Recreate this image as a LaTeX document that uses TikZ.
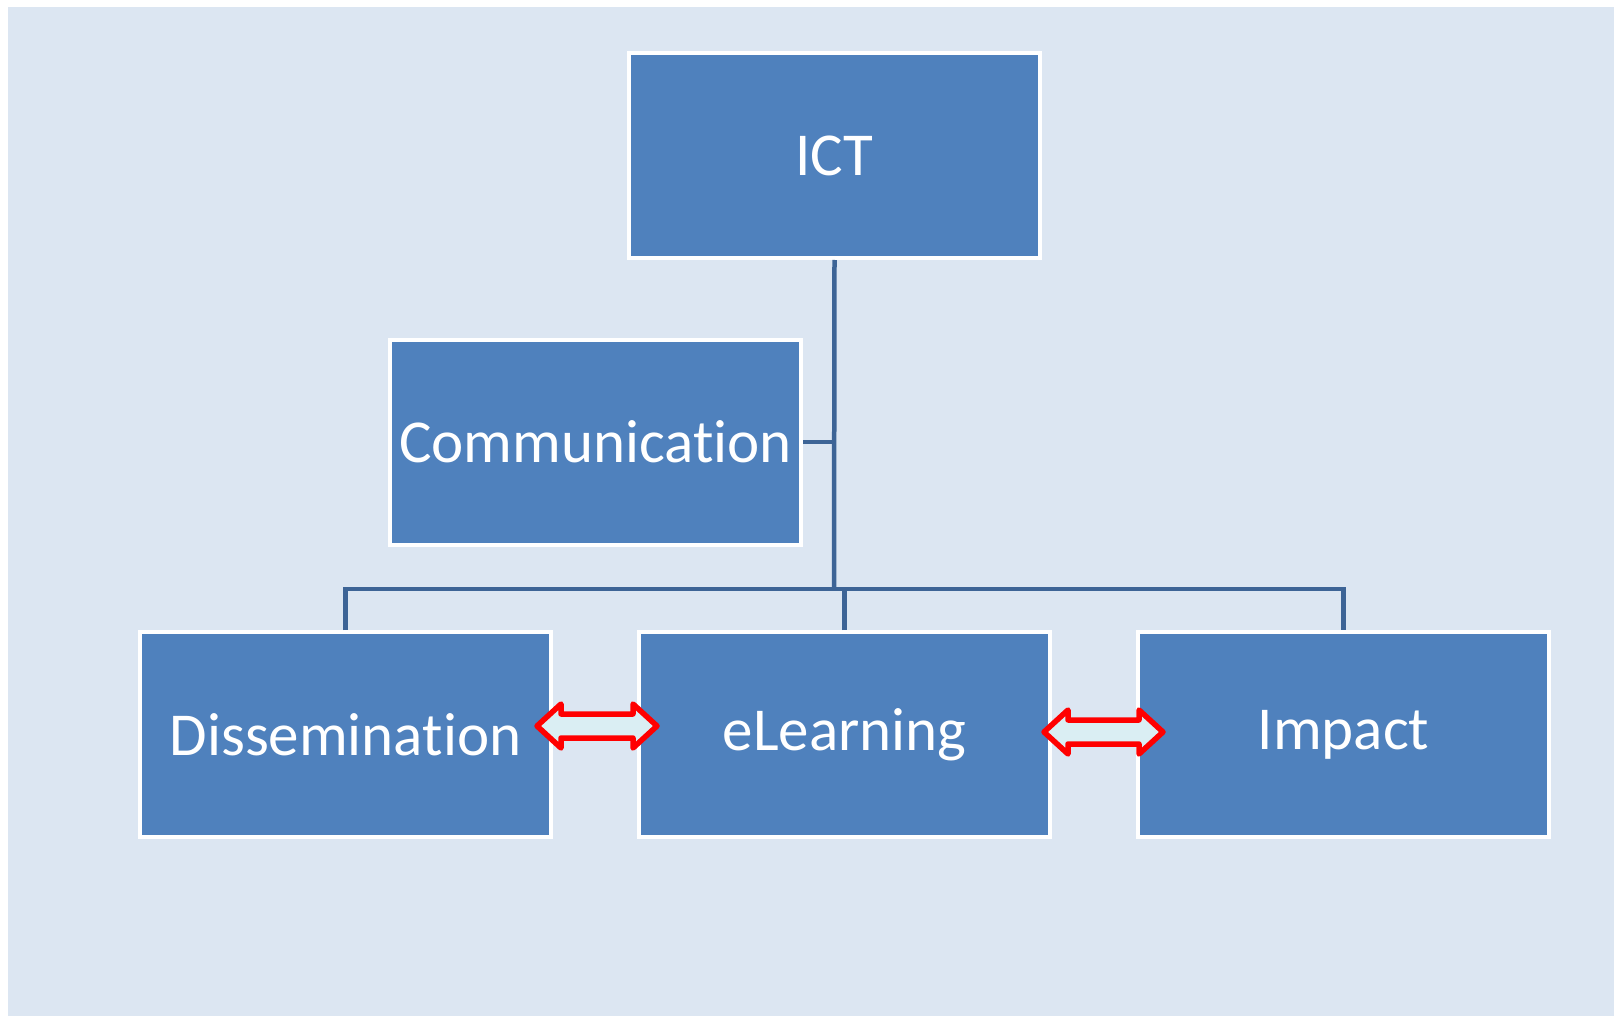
\documentclass[tikz,border=0pt]{standalone}
\usepackage{fontspec}
\setmainfont[Ligatures=NoCommon]{Carlito}
\definecolor{boxblue}{RGB}{79,129,189}
\definecolor{linkblue}{RGB}{61,100,150}
\definecolor{paleblue}{RGB}{220,230,242}
\definecolor{arrowfill}{RGB}{218,238,243}
\begin{document}
\begin{tikzpicture}[x=1pt,y=-1pt,
    box/.style={draw=white,line width=4pt,fill=boxblue,
        minimum width=411pt,minimum height=205pt,text=white,
        font=\fontsize{61}{61}\selectfont},
    link/.style={draw=linkblue,line width=4.5pt},
    swap/.style={draw=red,line width=5.5pt,line join=round,fill=arrowfill}]
    \useasboundingbox (0,0) rectangle (1614,1016);
    \fill[paleblue] (8,7) rectangle (1614,1016);
    % boxes
    \node[box] (ict) at (834.5,155.5) {ICT};
    \node[box] (comm) at (595.5,442) {Communication};
    \node[box] (dis) at (345.5,734.5) {Dissemination};
    \node[box] (elearn) at (844.5,734.5) {eLearning};
    \node[box] (imp) at (1343.5,734.5) {Impact};
    % tree lines
    \coordinate (bus) at (834,589);
    \draw[link] (ict.south) -- (bus);
    \draw[link] (comm.east) -- (comm.east -| bus);
    \draw[link] (dis.north) -- (dis.north |- bus) -| (imp.north);
    \draw[link] (elearn.north) -- (elearn.north |- bus);
    % double arrows
    \foreach \a/\b/\y in {537/657/726, 1044/1163/732}{
        \draw[swap] (\a,\y) -- (\a+24,\y-22) -- (\a+24,\y-12) -- (\b-24,\y-12) -- (\b-24,\y-22)
            -- (\b,\y) -- (\b-24,\y+22) -- (\b-24,\y+12) -- (\a+24,\y+12) -- (\a+24,\y+22) -- cycle;
    }
\end{tikzpicture}
\end{document}
